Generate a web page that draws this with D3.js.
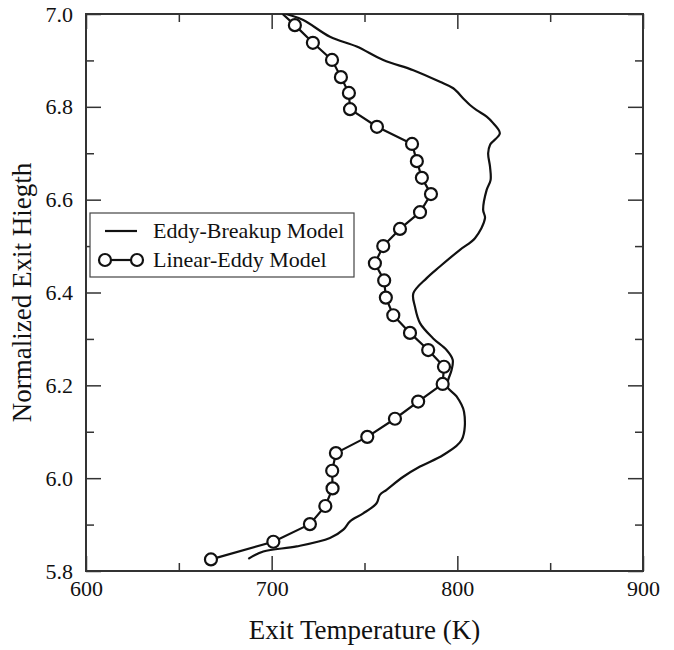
<!DOCTYPE html>
<html>
<head>
<meta charset="utf-8">
<script src="https://cdn.jsdelivr.net/npm/d3@7"></script>
<style>
  html, body { margin: 0; padding: 0; background: #fff; }
  svg { display: block; }
  text { font-family: "Liberation Serif", "Times New Roman", serif; fill: #111; }
</style>
</head>
<body>
<svg id="chart" width="674" height="650"></svg>
<script>
// ---------------- data ----------------
const xTickValues = [600, 700, 800, 900];
const yTickValues = [5.8, 6.0, 6.2, 6.4, 6.6, 6.8, 7.0];
const seriesNames = ["Eddy-Breakup Model", "Linear-Eddy Model"];

// Eddy-Breakup model (continuous curve)
const ebTemp = [687.4, 695.5, 713.5, 731.4, 738.6, 742.2, 749.3, 756.5, 758.3, 761.9,
  770.9, 779.9, 792.4, 802.3, 803.6, 799.6, 794.6, 795.1, 796.9, 797.5,
  794.2, 787.0, 779.9, 777.2, 776.3, 783.5, 790.6, 801.4, 809.5, 814.9,
  813.9, 815.8, 817.9, 817.6, 816.6, 817.6, 822.9, 819.3, 815.8, 810.4,
  806.8, 803.2, 797.8, 790.6, 776.3, 760.1, 745.8, 731.4, 717.0, 707.7];
const ebHeight = [5.826, 5.842, 5.853, 5.871, 5.889, 5.907, 5.924, 5.946, 5.964, 5.975,
  6.003, 6.025, 6.050, 6.082, 6.143, 6.176, 6.197, 6.212, 6.233, 6.255,
  6.276, 6.301, 6.334, 6.369, 6.398, 6.431, 6.456, 6.492, 6.517, 6.560,
  6.578, 6.621, 6.642, 6.671, 6.700, 6.718, 6.743, 6.765, 6.779, 6.793,
  6.804, 6.818, 6.840, 6.854, 6.879, 6.901, 6.930, 6.951, 6.987, 7.000];

// Linear-Eddy model (points with circle markers)
const leTemp = [667.3, 700.9, 720.6, 728.9, 732.8, 732.6, 734.6, 751.5, 766.4, 778.9,
  792.1, 792.8, 784.3, 774.5, 765.5, 761.5, 760.6, 755.6, 760.1, 769.1,
  779.9, 785.8, 780.9, 778.2, 775.6, 756.7, 742.2, 741.6, 737.3, 732.5,
  722.2, 712.5];
const leHeight = [5.825, 5.863, 5.901, 5.940, 5.978, 6.016, 6.054, 6.089, 6.128, 6.165,
  6.203, 6.240, 6.276, 6.313, 6.351, 6.389, 6.426, 6.463, 6.500, 6.537,
  6.573, 6.612, 6.647, 6.683, 6.720, 6.757, 6.795, 6.830, 6.864, 6.901,
  6.938, 6.976];
// line of the Linear-Eddy model continues to the top edge (no marker)
const leLineTopTemp = 705.9;
const leLineTopHeight = 7.0;

// ---------------- layout ----------------
const svg = d3.select("#chart");
const margin = { left: 86, right: 31, top: 14, bottom: 79 };
const W = 674, H = 650;
const x = d3.scaleLinear().domain([600, 900]).range([margin.left, W - margin.right]);
const y = d3.scaleLinear().domain([5.8, 7.0]).range([H - margin.bottom, margin.top]);

const x0 = x.range()[0], x1 = x.range()[1];
const y0 = y.range()[0], y1 = y.range()[1];

const ebData = ebTemp.map((t, i) => ({ t, h: ebHeight[i] }));
const leData = leTemp.map((t, i) => ({ t, h: leHeight[i] }));
const leLineData = leData.concat([{ t: leLineTopTemp, h: leLineTopHeight }]);

svg.append("clipPath").attr("id", "plotclip")
  .append("rect").attr("x", x0).attr("y", y1).attr("width", x1 - x0).attr("height", y0 - y1);

// ---------------- axes (ticks inward on all four sides) ----------------
const xMinor = d3.range(650, 900, 100);
const yMinor = d3.range(5.9, 7.0, 0.2);
const frameColor = "#333";
const majorLen = 15, minorLen = 8;
const serif = '"Liberation Serif", "Times New Roman", serif';

const axB = d3.axisBottom(x).tickValues(xTickValues).tickSize(-majorLen).tickPadding(9)
  .tickFormat(d3.format("d"));
const gB = svg.append("g").attr("transform", `translate(0,${y0})`).call(axB);
const axBm = d3.axisBottom(x).tickValues(xMinor).tickSize(-minorLen).tickFormat("");
const gBm = svg.append("g").attr("transform", `translate(0,${y0})`).call(axBm);

const axT = d3.axisTop(x).tickValues(xTickValues).tickSize(-majorLen).tickFormat("");
const gT = svg.append("g").attr("transform", `translate(0,${y1})`).call(axT);
const axTm = d3.axisTop(x).tickValues(xMinor).tickSize(-minorLen).tickFormat("");
const gTm = svg.append("g").attr("transform", `translate(0,${y1})`).call(axTm);

const axL = d3.axisLeft(y).tickValues(yTickValues).tickSize(-majorLen).tickPadding(13)
  .tickFormat(d3.format(".1f"));
const gL = svg.append("g").attr("transform", `translate(${x0},0)`).call(axL);
const axLm = d3.axisLeft(y).tickValues(yMinor).tickSize(-minorLen).tickFormat("");
const gLm = svg.append("g").attr("transform", `translate(${x0},0)`).call(axLm);

const axR = d3.axisRight(y).tickValues(yTickValues).tickSize(-majorLen).tickFormat("");
const gR = svg.append("g").attr("transform", `translate(${x1},0)`).call(axR);
const axRm = d3.axisRight(y).tickValues(yMinor).tickSize(-minorLen).tickFormat("");
const gRm = svg.append("g").attr("transform", `translate(${x1},0)`).call(axRm);

[gB, gBm, gT, gTm, gL, gLm, gR, gRm].forEach(g => {
  g.attr("font-family", serif).attr("font-size", 22);
  g.select(".domain").remove();
  g.selectAll(".tick line").attr("stroke", frameColor).attr("stroke-width", 1.5);
  g.selectAll("text").attr("font-family", serif).attr("font-size", 22)
    .style("font-family", serif).style("font-size", "22px").attr("fill", "#111");
});

// frame
svg.append("rect").attr("x", x0).attr("y", y1).attr("width", x1 - x0).attr("height", y0 - y1)
  .attr("fill", "none").attr("stroke", frameColor).attr("stroke-width", 2);

// ---------------- series ----------------
const plot = svg.append("g").attr("clip-path", "url(#plotclip)");

const ebLine = d3.line().x(d => x(d.t)).y(d => y(d.h)).curve(d3.curveCatmullRom.alpha(0.5));
plot.append("path").datum(ebData).attr("d", ebLine)
  .attr("fill", "none").attr("stroke", "#111").attr("stroke-width", 2.2)
  .attr("stroke-linejoin", "round");

const leLine = d3.line().x(d => x(d.t)).y(d => y(d.h));
plot.append("path").datum(leLineData).attr("d", leLine)
  .attr("fill", "none").attr("stroke", "#111").attr("stroke-width", 2.2)
  .attr("stroke-linejoin", "round");

plot.selectAll("circle.le").data(leData).join("circle").attr("class", "le")
  .attr("cx", d => x(d.t)).attr("cy", d => y(d.h)).attr("r", 6)
  .attr("fill", "#fff").attr("stroke", "#111").attr("stroke-width", 2.2);

// ---------------- axis titles ----------------
svg.append("text").attr("x", (x0 + x1) / 2).attr("y", 639).attr("text-anchor", "middle")
  .style("font-size", "27px").text("Exit Temperature (K)");
svg.append("text").attr("transform", `translate(31,${(y0 + y1) / 2}) rotate(-90)`)
  .attr("text-anchor", "middle").style("font-size", "27px").text("Normalized Exit Hiegth");

// ---------------- legend ----------------
const lg = svg.append("g");
lg.append("rect").attr("x", 90).attr("y", 213).attr("width", 264).attr("height", 64)
  .attr("fill", "#fff").attr("stroke", "#444").attr("stroke-width", 1.2);
lg.append("line").attr("x1", 105).attr("x2", 137).attr("y1", 231).attr("y2", 231)
  .attr("stroke", "#111").attr("stroke-width", 2.2);
lg.append("text").attr("x", 153).attr("y", 238).style("font-size", "22px").text(seriesNames[0]);
lg.append("line").attr("x1", 105).attr("x2", 137).attr("y1", 260).attr("y2", 260)
  .attr("stroke", "#111").attr("stroke-width", 2.2);
lg.selectAll("circle").data([105, 137]).join("circle")
  .attr("cx", d => d).attr("cy", 260).attr("r", 6)
  .attr("fill", "#fff").attr("stroke", "#111").attr("stroke-width", 2.2);
lg.append("text").attr("x", 153).attr("y", 267).style("font-size", "22px").text(seriesNames[1]);
</script>
</body>
</html>
